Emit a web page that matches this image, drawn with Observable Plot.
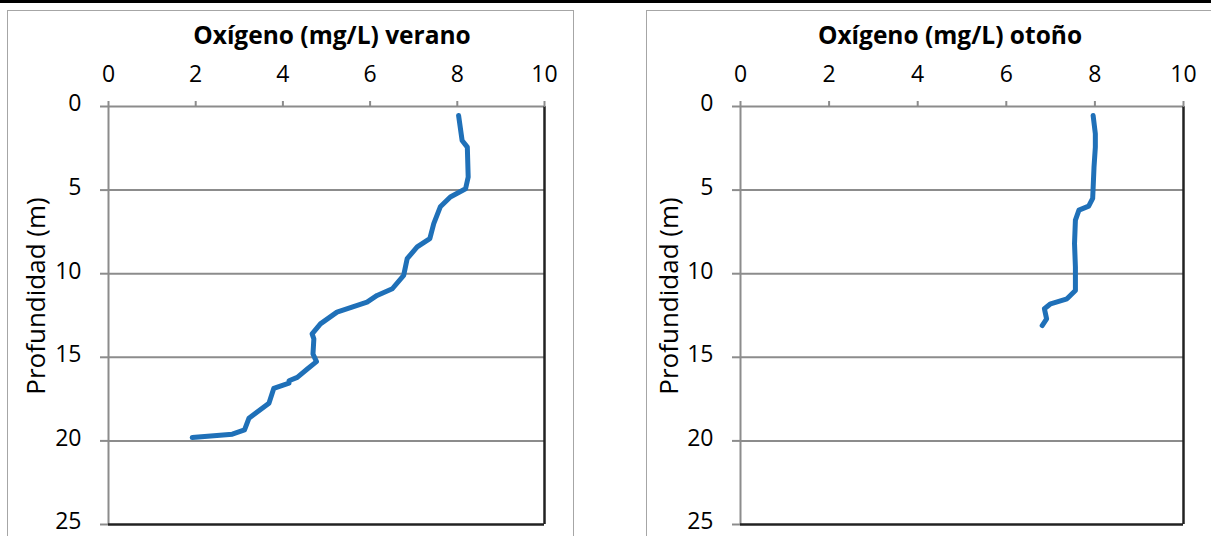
<!DOCTYPE html>
<html><head><meta charset="utf-8">
<script src="https://cdn.jsdelivr.net/npm/d3@7"></script>
<script src="https://cdn.jsdelivr.net/npm/@observablehq/plot@0.6"></script>
<style>
body{margin:0;background:#fff;}
#root{position:relative;width:1211px;height:536px;overflow:hidden;font-family:"Open Sans",sans-serif;color:#000;}
.topbar{position:absolute;left:0;top:0;width:1211px;height:3px;background:#000;}
.panel{position:absolute;border:1.5px solid #a6a6a6;box-sizing:border-box;}
.title{position:absolute;font-weight:bold;font-size:24.5px;line-height:1;transform:translateX(-50%);white-space:nowrap;}
.ylab{position:absolute;font-size:26px;line-height:1;transform:translate(-50%,-50%) rotate(-90deg);white-space:nowrap;}
.chart{position:absolute;top:0;}
</style></head>
<body>
<div id="root">
  <div class="panel" style="left:7px;top:10px;width:567px;height:560px;"></div>
  <div class="panel" style="left:646px;top:10px;width:600px;height:560px;"></div>
  <div class="topbar"></div>
  <div class="title" style="left:332px;top:23px;">Oxígeno (mg/L) verano</div>
  <div class="title" style="left:950px;top:23px;">Oxígeno (mg/L) otoño</div>
  <div class="ylab" style="left:35px;top:296px;">Profundidad (m)</div>
  <div class="ylab" style="left:668px;top:296px;">Profundidad (m)</div>
  <div id="c1" class="chart" style="left:0px;"></div>
  <div id="c2" class="chart" style="left:632px;"></div>
</div>
<script>
const xTicks = [0, 2, 4, 6, 8, 10];
const yTicks = [0, 5, 10, 15, 20, 25];
const yGrid = [5, 10, 15, 20];

// Verano: oxígeno (mg/L) y profundidad (m)
const veranoOxigeno = [8.03, 8.11, 8.23, 8.25, 8.19, 7.84, 7.61, 7.46, 7.37, 7.08, 6.85, 6.77, 6.51, 6.16, 5.93, 5.24, 4.86, 4.67, 4.71, 4.69, 4.77, 4.56, 4.33, 4.14, 4.14, 3.79, 3.68, 3.22, 3.12, 2.84, 1.92];
const veranoProf    = [0.54, 2.03, 2.43, 4.22, 4.92, 5.41, 6.0, 7.0, 7.9, 8.4, 9.1, 10.1, 10.9, 11.3, 11.7, 12.3, 13.0, 13.6, 13.9, 14.8, 15.26, 15.7, 16.2, 16.4, 16.55, 16.86, 17.75, 18.65, 19.34, 19.6, 19.8];

// Otoño
const otonoOxigeno = [7.96, 8.01, 8.01, 7.98, 7.95, 7.86, 7.64, 7.56, 7.54, 7.56, 7.56, 7.37, 7.0, 6.86, 6.91, 6.81];
const otonoProf    = [0.54, 1.63, 2.43, 3.62, 5.5, 5.96, 6.2, 6.8, 8.2, 9.6, 11.0, 11.5, 11.8, 12.1, 12.7, 13.1];

const verano = veranoOxigeno.map((v, i) => ({v, d: veranoProf[i]}));
const otono = otonoOxigeno.map((v, i) => ({v, d: otonoProf[i]}));

function chart(data, width, mLeft, mRight) {
  return Plot.plot({
    width, height: 536,
    marginLeft: mLeft, marginRight: mRight, marginTop: 106, marginBottom: 12,
    style: {fontFamily: "Open Sans", fontSize: "23px", color: "#000", background: "transparent", overflow: "visible"},
    x: {domain: [0, 10]},
    y: {domain: [0, 25], reverse: true},
    marks: [
      Plot.ruleY(yGrid, {stroke: "#8c8c8c", strokeWidth: 2}),
      Plot.ruleY([0], {stroke: "#8c8c8c", strokeWidth: 2}),
      Plot.ruleX([0], {stroke: "#8c8c8c", strokeWidth: 2}),
      Plot.ruleX([10], {stroke: "#222", strokeWidth: 2.5}),
      Plot.ruleY([25], {stroke: "#222", strokeWidth: 2.5}),
      Plot.axisX({anchor: "top", ticks: xTicks, tickSize: 6, tickPadding: 19, stroke: "#8c8c8c", strokeWidth: 2, fill: "#000", label: null, tickFormat: d => String(d)}),
      Plot.axisY({anchor: "left", ticks: yTicks, tickSize: 8, stroke: "#8c8c8c", strokeWidth: 2, label: null, tickFormat: () => ""}),
      Plot.text(yTicks, {y: d => d, frameAnchor: "left", dx: -27, dy: -2.5, textAnchor: "end", text: d => String(d), fill: "#000", fontSize: 23}),
      Plot.line(data, {x: "v", y: "d", stroke: "#1f70b8", strokeWidth: 5, strokeLinecap: "round", strokeLinejoin: "round"})
    ]
  });
}

document.getElementById("c1").appendChild(chart(verano, 590, 108, 46));
document.getElementById("c2").appendChild(chart(otono, 579, 108, 28));
</script>
</body></html>
